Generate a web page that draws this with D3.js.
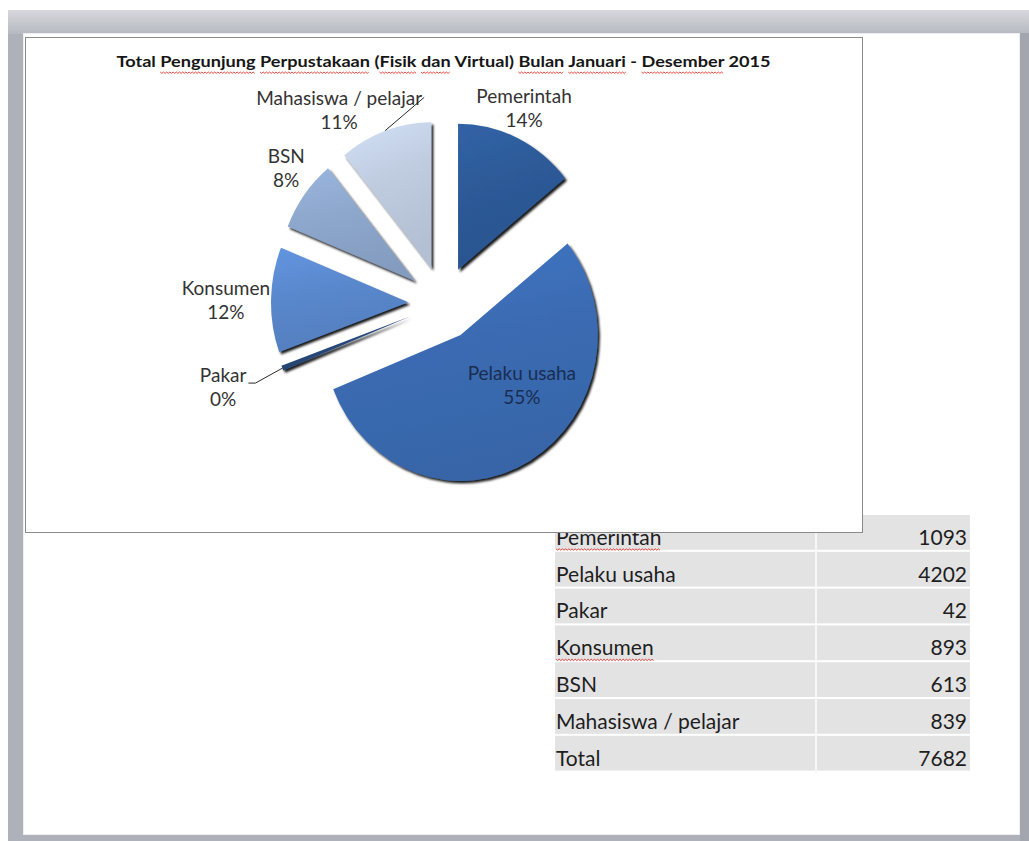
<!DOCTYPE html>
<html>
<head>
<meta charset="utf-8">
<script src="https://cdn.jsdelivr.net/npm/d3@7"></script>
<style>
  html, body { margin: 0; padding: 0; background: #ffffff; }
  svg { display: block; }
  text { font-family: Lato, "Open Sans", "Noto Sans", sans-serif; }
</style>
</head>
<body>
<svg id="chart" width="1029" height="841"></svg>
<script>
// ---------------- DATA ----------------
const categories = ["Pemerintah", "Pelaku usaha", "Pakar", "Konsumen", "BSN", "Mahasiswa / pelajar"];
const visitors   = [1093, 4202, 42, 893, 613, 839];
const percentLabels = [14, 55, 0, 12, 8, 11];          // as printed on the chart
const totalLabel = "Total";
const titleText  = "Total Pengunjung Perpustakaan (Fisik dan Virtual) Bulan Januari - Desember 2015";
const titleFlagged = ["Pengunjung", "Perpustakaan", "Fisik", "dan", "Bulan", "Januari", "Desember"];
const tableFlagged = ["Pemerintah", "Konsumen"];

// ---------------- STYLE / LAYOUT ----------------
const W = 1029, H = 841;
const sliceColors = ["#2d5a98", "#3b6cb4", "#27497c", "#5a88cd", "#8ea7cd", "#c0cde1"];
const box = { x: 25, y: 37, w: 837, h: 495 };
const pieCfg = { cx: 443, cy: 303, r: 146, explode: 37, sx: 0.94 };
// label placement relative to the slice mid-angle (degrees shift, radius from pie centre)
const labelPlacement = [
  { da: -1.0,  r: 207 },
  { da: -13.1, r: 122, inside: true },
  { da: -0.4,  r: 251, leader: { dy: 1, tick: 7 } },
  { da: -2.1,  r: 231 },
  { da: 1.1,   r: 210 },
  { da: -11.1, r: 216, leader: { dy: -8, tick: 0 } }
];
const table = { x: 555, y: 515, w: 415, split: 815, rowH: 36.8 };

const svg = d3.select("#chart");
const defs = svg.append("defs");

// ---------------- WINDOW FRAME ----------------
const topBand = defs.append("linearGradient").attr("id", "topBand")
  .attr("x1", 0).attr("y1", 0).attr("x2", 0).attr("y2", 1);
topBand.append("stop").attr("offset", 0).attr("stop-color", "#d7d8dd");
topBand.append("stop").attr("offset", 1).attr("stop-color", "#b6b9c1");

svg.append("rect").attr("x", 8).attr("y", 10).attr("width", W - 8).attr("height", H - 10).attr("fill", "#aeb1b9");
svg.append("rect").attr("x", 8).attr("y", 10).attr("width", W - 8).attr("height", 24).attr("fill", "url(#topBand)");
svg.append("rect").attr("x", 1020).attr("y", 33).attr("width", 9).attr("height", H - 33).attr("fill", "#a3a6ae");
svg.append("rect").attr("x", 23).attr("y", 33).attr("width", 997).attr("height", 802).attr("fill", "#ffffff");
svg.append("rect").attr("x", 23.5).attr("y", 33.5).attr("width", 996).attr("height", 801)
  .attr("fill", "none").attr("stroke", "#eceef1").attr("stroke-width", 1);

// ---------------- helpers ----------------
function wavy(x0, x1, y) {
  let p = `M${x0},${y}`;
  let k = 0;
  for (let x = x0 + 1.6; x <= x1; x += 1.6) {
    k++;
    p += `L${x.toFixed(1)},${(k % 2 ? y + 1.4 : y).toFixed(1)}`;
  }
  return p;
}
function underlineWords(textNode, words, y, layer) {
  const s = textNode.textContent;
  words.forEach(w => {
    const i = s.indexOf(w);
    if (i < 0) return;
    const x0 = textNode.getStartPositionOfChar(i).x;
    const x1 = textNode.getEndPositionOfChar(i + w.length - 1).x;
    layer.append("path").attr("d", wavy(x0, x1, y))
      .attr("fill", "none").attr("stroke", "#e0322c").attr("stroke-width", 0.9);
  });
}

// ---------------- TABLE ----------------
const total = d3.sum(visitors);
const rows = categories.map((c, i) => ({ label: c, value: visitors[i] }))
  .concat([{ label: totalLabel, value: total }]);
const yRow = d3.scaleBand().domain(d3.range(rows.length))
  .range([table.y, table.y + table.rowH * rows.length]);

const tg = svg.append("g");
tg.selectAll("rect.row").data(rows).join("rect").attr("class", "row")
  .attr("x", table.x).attr("y", (d, i) => yRow(i))
  .attr("width", table.w).attr("height", yRow.bandwidth() - 2)
  .attr("fill", "#e3e3e3");
tg.append("rect").attr("x", table.split).attr("y", table.y)
  .attr("width", 2).attr("height", table.rowH * rows.length).attr("fill", "#f7f7f7");
const labelTexts = tg.selectAll("text.lab").data(rows).join("text").attr("class", "lab")
  .attr("x", table.x + 1).attr("y", (d, i) => yRow(i) + yRow.bandwidth() - 7)
  .attr("font-size", 21).attr("fill", "#1e1e1e").text(d => d.label);
tg.selectAll("text.val").data(rows).join("text").attr("class", "val")
  .attr("x", table.x + table.w - 3).attr("y", (d, i) => yRow(i) + yRow.bandwidth() - 7)
  .attr("font-size", 21).attr("fill", "#1e1e1e").attr("text-anchor", "end")
  .text(d => d.value);
labelTexts.each(function (d, i) {
  if (tableFlagged.includes(d.label)) underlineWords(this, [d.label], yRow(i) + yRow.bandwidth() - 3, tg);
});

// ---------------- CHART BOX ----------------
svg.append("rect").attr("x", box.x + 0.5).attr("y", box.y + 0.5)
  .attr("width", box.w).attr("height", box.h)
  .attr("fill", "#ffffff").attr("stroke", "#8a8a8a").attr("stroke-width", 1);

// title
const titleNode = svg.append("text")
  .attr("x", box.x + box.w / 2).attr("y", 67)
  .attr("text-anchor", "middle").attr("font-size", 16).attr("font-weight", "bold")
  .attr("fill", "#161616")
  .attr("textLength", 654).attr("lengthAdjust", "spacingAndGlyphs")
  .text(titleText);
underlineWords(titleNode.node(), titleFlagged, 72, svg);

// ---------------- PIE ----------------
const shadow = defs.append("filter").attr("id", "shadow")
  .attr("filterUnits", "userSpaceOnUse")
  .attr("x", -260).attr("y", -260).attr("width", 520).attr("height", 520);
shadow.append("feDropShadow").attr("dx", 2.2).attr("dy", 2.4).attr("stdDeviation", 1.1)
  .attr("flood-color", "#000").attr("flood-opacity", 0.9);

sliceColors.forEach((c, i) => {
  const g = defs.append("linearGradient").attr("id", "sg" + i)
    .attr("x1", 0).attr("y1", 0).attr("x2", 0.25).attr("y2", 1);
  g.append("stop").attr("offset", 0).attr("stop-color", d3.color(c).brighter(0.25));
  g.append("stop").attr("offset", 0.45).attr("stop-color", c);
  g.append("stop").attr("offset", 1).attr("stop-color", d3.color(c).darker(0.2));
});

const pieData = d3.pie().sort(null).value(d => d)(visitors);
const arc = d3.arc().innerRadius(0).outerRadius(pieCfg.r);
const mid = d => (d.startAngle + d.endAngle) / 2;

const pg = svg.append("g")
  .attr("transform", `translate(${pieCfg.cx},${pieCfg.cy}) scale(${pieCfg.sx},1)`);
pg.selectAll("path").data(pieData).join("path")
  .attr("transform", d => `translate(${pieCfg.explode * Math.sin(mid(d))},${-pieCfg.explode * Math.cos(mid(d))})`)
  .attr("d", arc)
  .attr("fill", (d, i) => `url(#sg${i})`)
  .attr("filter", "url(#shadow)");

// ---------------- LABELS ----------------
const lg = svg.append("g");
pieData.forEach((d, i) => {
  const pl = labelPlacement[i];
  const a = mid(d) + pl.da * Math.PI / 180;
  const ax = pieCfg.cx + pieCfg.sx * pl.r * Math.sin(a);
  const ay = pieCfg.cy - pl.r * Math.cos(a);
  const col = pl.inside ? "#1a2d50" : "#333333";
  const t1 = lg.append("text").attr("x", ax).attr("y", ay - 12)
    .attr("text-anchor", "middle").attr("font-size", 19).attr("fill", col)
    .text(categories[i]);
  lg.append("text").attr("x", ax).attr("y", ay + 12)
    .attr("text-anchor", "middle").attr("font-size", 19).attr("fill", col)
    .text(percentLabels[i] + "%");
  if (pl.leader) {
    const w = t1.node().getComputedTextLength();
    const lx = ax + w / 2 + 2;
    const ly = ay - 12 + pl.leader.dy;
    const m = mid(d);
    const ex = pieCfg.cx + pieCfg.sx * (pieCfg.explode + pieCfg.r) * Math.sin(m);
    const ey = pieCfg.cy - (pieCfg.explode + pieCfg.r) * Math.cos(m);
    const pts = [[lx, ly], [lx + pl.leader.tick, ly], [ex, ey]];
    lg.append("path").attr("d", d3.line()(pts))
      .attr("fill", "none").attr("stroke", "#2a2a2a").attr("stroke-width", 1);
  }
});
</script>
</body>
</html>
